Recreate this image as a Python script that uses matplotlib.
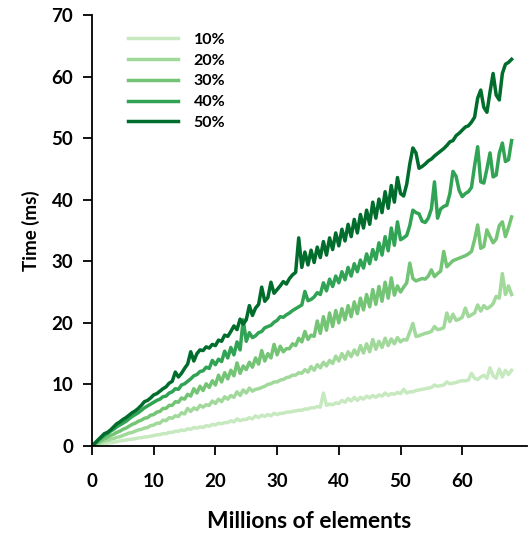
import numpy as np
import matplotlib
matplotlib.use("Agg")
import matplotlib.pyplot as plt

plt.rcParams['font.family'] = ['Lato', 'DejaVu Sans']
plt.rcParams['font.weight'] = 'bold'

# millions of elements, one sample every 0.5 M
x = np.arange(0, 68.01, 0.5)

labels = ['10%', '20%', '30%', '40%', '50%']
colors = ['#c7e9c0', '#a1d99b', '#74c476', '#31a354', '#006d2c']

t10 = [0, 0.1, 0.2, 0.3, 0.4, 0.45, 0.55, 0.6, 0.7, 0.8, 0.9, 0.95, 1.05, 1.1, 1.2, 1.3, 1.35, 1.45, 1.5, 1.6,
       1.7, 1.8, 1.85, 2.0, 2.0, 2.2, 2.2, 2.4, 2.4, 2.6, 2.5, 2.8, 2.7, 3.0, 2.9, 3.1, 3.0, 3.3, 3.2, 3.5,
       3.4, 3.7, 3.6, 3.8, 3.8, 4.1, 3.9, 4.4, 4.1, 4.3, 4.3, 4.6, 4.4, 4.9, 4.6, 5.0, 4.8, 5.1, 4.9, 5.3,
       5.1, 5.3, 5.3, 5.5, 5.5, 5.6, 5.7, 5.8, 5.8, 6.0, 6.0, 6.2, 6.2, 6.4, 6.3, 8.6, 6.6, 6.8, 6.7, 7.0,
       6.9, 7.4, 7.1, 7.7, 7.3, 7.9, 7.4, 7.9, 7.6, 8.1, 7.8, 8.2, 7.9, 8.3, 8.1, 8.6, 8.2, 8.5, 8.4, 8.7,
       8.5, 9.2, 8.6, 8.8, 8.8, 9.0, 9.1, 9.2, 9.3, 9.4, 9.5, 9.9, 9.7, 9.8, 9.9, 10.4, 10.1, 10.2, 10.3, 10.5,
       10.6, 10.6, 10.7, 11.8, 11.0, 10.8, 11.2, 11.5, 11.0, 12.7, 11.4, 11.0, 12.5, 11.2, 12.3, 11.6, 12.3]

t20 = [0, 0.2, 0.4, 0.6, 0.8, 0.9, 1.1, 1.2, 1.4, 1.5, 1.7, 1.9, 2.1, 2.2, 2.4, 2.6, 2.7, 2.9, 3.0, 3.3,
       3.4, 3.7, 3.7, 4.2, 4.1, 4.6, 4.5, 4.9, 4.8, 5.4, 5.2, 6.1, 5.6, 6.2, 5.9, 6.6, 6.3, 6.7, 6.6, 7.3,
       6.9, 7.6, 7.2, 8.0, 7.6, 8.2, 7.9, 8.8, 8.2, 9.1, 8.6, 9.4, 8.9, 9.2, 9.3, 9.5, 9.7, 10.0, 10.1, 10.4,
       10.4, 10.7, 10.8, 11.1, 11.2, 11.5, 11.5, 11.9, 11.8, 12.4, 12.0, 12.9, 12.3, 13.2, 12.7, 13.6, 13.0, 13.9, 13.4, 14.6,
       13.8, 15.0, 14.1, 15.3, 14.5, 15.6, 14.8, 16.3, 15.1, 16.6, 15.3, 17.3, 15.7, 17.0, 16.0, 17.5, 16.3, 17.4, 16.6, 17.6,
       16.9, 17.3, 17.2, 18.5, 19.9, 17.8, 17.9, 18.1, 18.3, 18.4, 18.6, 19.4, 18.9, 19.0, 19.2, 21.6, 20.2, 21.4, 20.4, 20.6,
       20.9, 22.4, 21.0, 21.3, 21.6, 22.9, 21.9, 22.8, 22.3, 22.6, 23.1, 24.3, 24.0, 28.0, 24.6, 26.0, 24.6]

t30 = [0, 0.3, 0.6, 0.9, 1.2, 1.4, 1.7, 1.9, 2.2, 2.4, 2.7, 2.9, 3.2, 3.5, 3.7, 4.0, 4.2, 4.5, 4.6, 5.0,
       5.1, 5.5, 5.6, 6.1, 6.1, 6.6, 6.6, 7.2, 7.1, 7.8, 7.6, 8.4, 8.1, 9.3, 8.6, 9.7, 9.0, 10.1, 9.5, 10.6,
       9.9, 11.5, 10.4, 11.9, 10.9, 12.3, 11.4, 13.5, 11.8, 13.0, 12.4, 13.6, 12.8, 14.3, 13.3, 15.5, 13.8, 15.0, 14.3, 16.5,
       14.8, 16.2, 15.3, 15.8, 15.8, 16.6, 16.3, 17.5, 16.9, 18.6, 17.3, 18.0, 17.8, 20.3, 18.3, 21.0, 18.8, 21.6, 19.4, 22.0,
       20.0, 22.3, 20.5, 22.8, 21.0, 23.4, 21.5, 24.0, 22.1, 24.6, 22.6, 25.4, 23.0, 25.9, 23.5, 26.6, 24.0, 27.3, 24.5, 26.0,
       25.0, 25.8, 26.5, 29.7, 27.2, 26.8, 27.0, 27.2, 27.1, 27.6, 28.6, 27.5, 28.0, 28.4, 31.6, 29.1, 29.6, 30.1, 30.3, 30.5,
       30.7, 30.9, 31.2, 31.6, 33.5, 35.9, 32.1, 32.4, 35.1, 34.0, 33.0, 33.6, 35.8, 36.4, 34.0, 35.5, 37.2]

t40 = [0, 0.4, 0.9, 1.3, 1.7, 2.0, 2.4, 2.7, 3.1, 3.4, 3.7, 4.0, 4.4, 4.8, 5.1, 5.4, 5.8, 6.2, 6.5, 6.8,
       7.1, 7.4, 7.6, 8.0, 8.1, 8.6, 8.8, 9.3, 9.2, 9.9, 10.1, 10.5, 10.9, 11.4, 11.6, 12.1, 12.2, 12.8, 12.6, 13.9,
       13.2, 14.1, 13.7, 15.4, 14.3, 16.0, 14.8, 16.9, 15.6, 20.5, 17.0, 18.4, 17.6, 17.9, 18.4, 18.6, 19.2, 19.4, 19.6, 20.1,
       20.4, 21.0, 20.9, 21.3, 21.6, 22.0, 22.3, 22.6, 22.9, 25.1, 23.6, 23.8, 24.2, 24.9, 24.6, 26.5, 25.2, 27.1, 25.9, 27.6,
       26.5, 28.3, 27.0, 29.0, 27.6, 29.6, 28.3, 30.2, 28.9, 31.2, 29.6, 31.9, 30.3, 33.0, 31.0, 34.0, 31.7, 35.4, 32.6, 36.4,
       33.5, 33.8, 34.2, 35.8, 38.3, 37.9, 37.7, 36.5, 36.3, 37.0, 38.5, 42.9, 37.0, 38.5, 38.9, 39.1, 41.0, 44.6, 43.8, 41.5,
       40.5, 41.0, 41.3, 42.0, 45.5, 48.6, 42.9, 42.7, 45.0, 47.6, 43.7, 44.0, 47.5, 49.2, 46.2, 46.5, 49.6]

t50 = [0, 0.5, 1.0, 1.5, 2.0, 2.2, 2.6, 3.1, 3.6, 3.9, 4.3, 4.6, 5.0, 5.4, 5.7, 6.1, 6.6, 7.2, 7.4, 7.8,
       8.3, 8.5, 8.9, 9.3, 9.6, 10.2, 10.5, 12.0, 11.2, 11.8, 12.6, 13.3, 15.3, 13.8, 15.0, 15.6, 15.5, 16.1, 15.9, 16.5,
       16.3, 17.2, 17.0, 18.0, 17.8, 18.6, 19.5, 18.9, 20.6, 19.8, 20.5, 22.8, 21.2, 22.4, 23.0, 25.8, 23.5, 24.1, 26.6, 24.8,
       25.4, 26.0, 26.7, 26.3, 27.2, 27.8, 28.2, 33.8, 29.0, 31.5, 29.4, 31.8, 29.8, 32.3, 30.6, 33.2, 31.0, 33.8, 31.9, 34.6,
       32.5, 35.2, 33.3, 36.0, 34.0, 36.8, 34.6, 37.6, 35.4, 38.3, 36.0, 39.6, 37.0, 40.1, 37.9, 41.3, 38.6, 42.3, 39.6, 43.6,
       41.0, 40.6, 42.5, 45.8, 48.4, 47.6, 45.1, 45.4, 45.8, 46.3, 46.6, 47.1, 47.5, 47.9, 48.3, 48.8, 49.4, 49.6, 50.4, 50.8,
       51.3, 51.8, 52.0, 52.6, 53.4, 56.5, 57.8, 55.0, 54.2, 57.5, 60.5, 57.0, 56.2, 60.5, 62.0, 62.3, 62.8]

series = [t10, t20, t30, t40, t50]

fig = plt.figure(figsize=(5.30, 5.37), dpi=100)
ax = fig.add_axes([0.1736, 0.1695, 0.8208, 0.8026])

for lab, col, ys in zip(labels, colors, series):
    ax.plot(x, ys, color=col, linewidth=2.5, label=lab, solid_joinstyle='round')

ax.set_xlim(0, 70.5)
ax.set_ylim(0, 70)
ax.set_xticks([0, 10, 20, 30, 40, 50, 60])
ax.set_yticks([0, 10, 20, 30, 40, 50, 60, 70])
for s in ['top', 'right']:
    ax.spines[s].set_visible(False)
for s in ['left', 'bottom']:
    ax.spines[s].set_linewidth(1.3)
ax.tick_params(axis='both', direction='out', length=6.5, width=1.3, labelsize=13.5)
ax.tick_params(axis='x', pad=13)
ax.tick_params(axis='y', pad=7)
for t in ax.get_xticklabels() + ax.get_yticklabels():
    t.set_fontweight('bold')

ax.set_xlabel('Millions of elements', fontsize=16.4, fontweight='bold', labelpad=15)
ax.set_ylabel('Time (ms)', fontsize=13.5, fontweight='bold', labelpad=8)

leg = ax.legend(loc='upper left', bbox_to_anchor=(0.05, 0.992), frameon=False,
                prop={'weight': 'bold', 'size': 11.5}, handlelength=3.1,
                labelspacing=0.41, handletextpad=1.0)

fig.savefig('out.png', dpi=100)
